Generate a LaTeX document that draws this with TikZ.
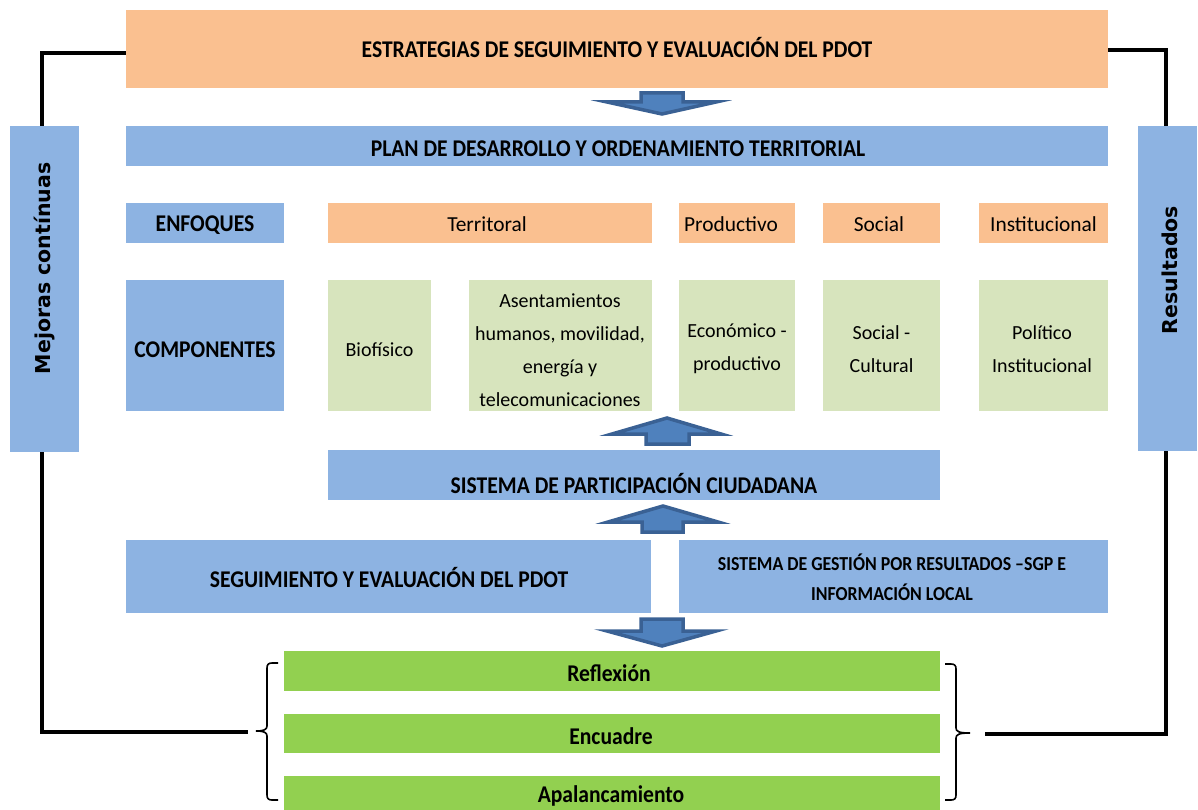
\documentclass[tikz,border=0pt]{standalone}
\usepackage{fontspec}
\setmainfont{Carlito}
\newfontfamily\ttlfont[FakeStretch=0.9]{Carlito}
\newfontfamily\vfont{DejaVu Sans}
\definecolor{orF}{HTML}{FAC090}
\definecolor{blF}{HTML}{8DB3E2}
\definecolor{lgF}{HTML}{D7E4BD}
\definecolor{grF}{HTML}{92D050}
\definecolor{arD}{HTML}{3A6194}
\definecolor{arF}{HTML}{4F81BD}
\begin{document}
\begin{tikzpicture}[x=1pt,y=-1pt,
  box/.style={rectangle, inner sep=0pt, outer sep=0pt, align=center, text=black},
  orbox/.style={box, fill=orF},
  blbox/.style={box, fill=blF},
  lgbox/.style={box, fill=lgF},
  grbox/.style={box, fill=grF},
  ttl/.style={font=\ttlfont\fontsize{24}{28}\selectfont\bfseries},
  reg/.style={font=\fontsize{21.4}{26}\selectfont},
  comp/.style={font=\fontsize{20}{33}\selectfont},
  vert/.style={font=\vfont\fontsize{20.5}{24}\selectfont\bfseries, rotate=90},
  blockarrow/.style={fill=arF, draw=arD, line width=3.5pt, line join=miter},
  conn/.style={line width=3.5pt, black},
  bracebar/.style={line width=1.6pt, black}
]
\useasboundingbox (0,0) rectangle (1198,810);
% top
\node[orbox, minimum width=982pt, minimum height=78pt] (top) at (617,49) {};
\node[ttl] (topt) at (617,48) {ESTRATEGIAS DE SEGUIMIENTO Y EVALUACIÓN DEL PDOT};
\node[blbox, minimum width=982pt, minimum height=40pt] (pdot) at (617,146) {};
\node[ttl] (pdott) at (618,149) {PLAN DE DESARROLLO Y ORDENAMIENTO TERRITORIAL};
% enfoques row
\node[blbox, minimum width=158pt, minimum height=40pt] (enf) at (205,223) {};
\node[ttl] (enft) at (205,225) {ENFOQUES};
\node[orbox, minimum width=324pt, minimum height=40pt] (terr) at (490,223) {};
\node[orbox, minimum width=116pt, minimum height=40pt] (prod) at (737,223) {};
\node[orbox, minimum width=117pt, minimum height=40pt] (soc) at (881.5,223) {};
\node[orbox, minimum width=129pt, minimum height=40pt] (inst) at (1043.5,223) {};
\node[reg] (terrt) at (487,224.5) {Territoral};
\node[reg] (prodt) at (731,224.5) {Productivo};
\node[reg] (soct) at (879,224.5) {Social};
\node[reg] (instt) at (1043.5,224.5) {Institucional};
% componentes row
\node[blbox, minimum width=158pt, minimum height=131pt] (comp) at (205,345.5) {};
\node[ttl] (compt) at (205,350) {COMPONENTES};
\node[lgbox, minimum width=103pt, minimum height=131pt] (bio) at (379.5,345.5) {};
\node[lgbox, minimum width=183pt, minimum height=131pt] (asen) at (560.5,345.5) {};
\node[lgbox, minimum width=116pt, minimum height=131pt] (eco) at (737,345.5) {};
\node[lgbox, minimum width=117pt, minimum height=131pt] (socc) at (881.5,345.5) {};
\node[lgbox, minimum width=129pt, minimum height=131pt] (pol) at (1043.5,345.5) {};
\node[comp, align=center] (biot) at (379.5,350) {Biofísico};
\node[comp, align=center] (asent) at (560,350) {Asentamientos\\humanos, movilidad,\\energía y\\telecomunicaciones};
\node[comp, align=center] (ecot) at (737,349) {Económico -\\productivo};
\node[comp, align=center] (socct) at (881.5,349) {Social -\\Cultural};
\node[comp, align=center] (polt) at (1042,349) {Político\\Institucional};
% participacion
\node[blbox, minimum width=612pt, minimum height=50pt] (part) at (634,475) {};
\node[ttl] (partt) at (634,484) {SISTEMA DE PARTICIPACIÓN CIUDADANA};
% seguimiento / sgp
\node[blbox, minimum width=525pt, minimum height=73pt] (seg) at (388.5,576.5) {};
\node[ttl] (segt) at (389,578) {SEGUIMIENTO Y EVALUACIÓN DEL PDOT};
\node[blbox, minimum width=429pt, minimum height=73pt] (sgp) at (893.5,576.5) {};
\node[font=\ttlfont\fontsize{19.8}{30}\selectfont\bfseries, align=center] (sgpt) at (892,577) {SISTEMA DE GESTIÓN POR RESULTADOS –SGP E\\INFORMACIÓN LOCAL};
% green
\node[grbox, minimum width=656pt, minimum height=40pt] (refl) at (612,671) {};
\node[ttl] (reflt) at (609,673) {Reflexión};
\node[grbox, minimum width=656pt, minimum height=39pt] (enc) at (612,733.5) {};
\node[ttl] (enct) at (611,736) {Encuadre};
\node[grbox, minimum width=656pt, minimum height=34pt] (apa) at (612,793) {};
\node[ttl] (apat) at (611,796) {Apalancamiento};
% side boxes
\node[blbox, minimum width=69pt, minimum height=326pt] (left) at (44.5,289) {};
\node[vert] (leftt) at (45,268.5) {Mejoras contínuas};
\node[blbox, minimum width=59pt, minimum height=325pt] (right) at (1167.5,288.5) {};
\node[vert] (rightt) at (1170,270) {Resultados};
% block arrows
\draw[blockarrow] (641,93) -- (683,93) -- (683,102) -- (716,102) -- (662,114) -- (607,102) -- (641,102) -- cycle;
\draw[blockarrow] (646,444) -- (689,444) -- (689,434) -- (721,434) -- (667,418) -- (612,434) -- (646,434) -- cycle;
\draw[blockarrow] (642,532) -- (683,532) -- (683,522) -- (718,522) -- (663,506) -- (608,522) -- (642,522) -- cycle;
\draw[blockarrow] (641,619) -- (683,619) -- (683,631) -- (716,631) -- (662,646) -- (607,631) -- (641,631) -- cycle;
% connectors
\coordinate (bl) at (248,732);
\coordinate (br) at (985,734);
\draw[conn] ([xshift=-2.5pt]left.north) |- ([yshift=-4pt]top.west);
\draw[conn] ([yshift=-1pt]top.east) -| ([xshift=-1.5pt]right.north);
\draw[conn] ([xshift=-2.5pt]left.south) |- (bl);
\draw[conn] (br) -| ([xshift=-1.5pt]right.south);
% braces
\draw[bracebar] (278,663) -- (272,663) .. controls (268.5,663) and (267,664.5) .. (267,668) -- (267,726)
  .. controls (267,729.5) and (264,731) .. (256,731) .. controls (264,731) and (267,732.5) .. (267,736)
  -- (267,795) .. controls (267,798.5) and (268.5,800) .. (272,800) -- (278,800);
\draw[bracebar] (945,664) -- (951,664) .. controls (954.5,664) and (956,665.5) .. (956,669) -- (956,728)
  .. controls (956,731.5) and (959,733) .. (970,733) .. controls (959,733) and (956,734.5) .. (956,738)
  -- (956,795) .. controls (956,798.5) and (954.5,800) .. (951,800) -- (945,800);
\end{tikzpicture}
\end{document}
